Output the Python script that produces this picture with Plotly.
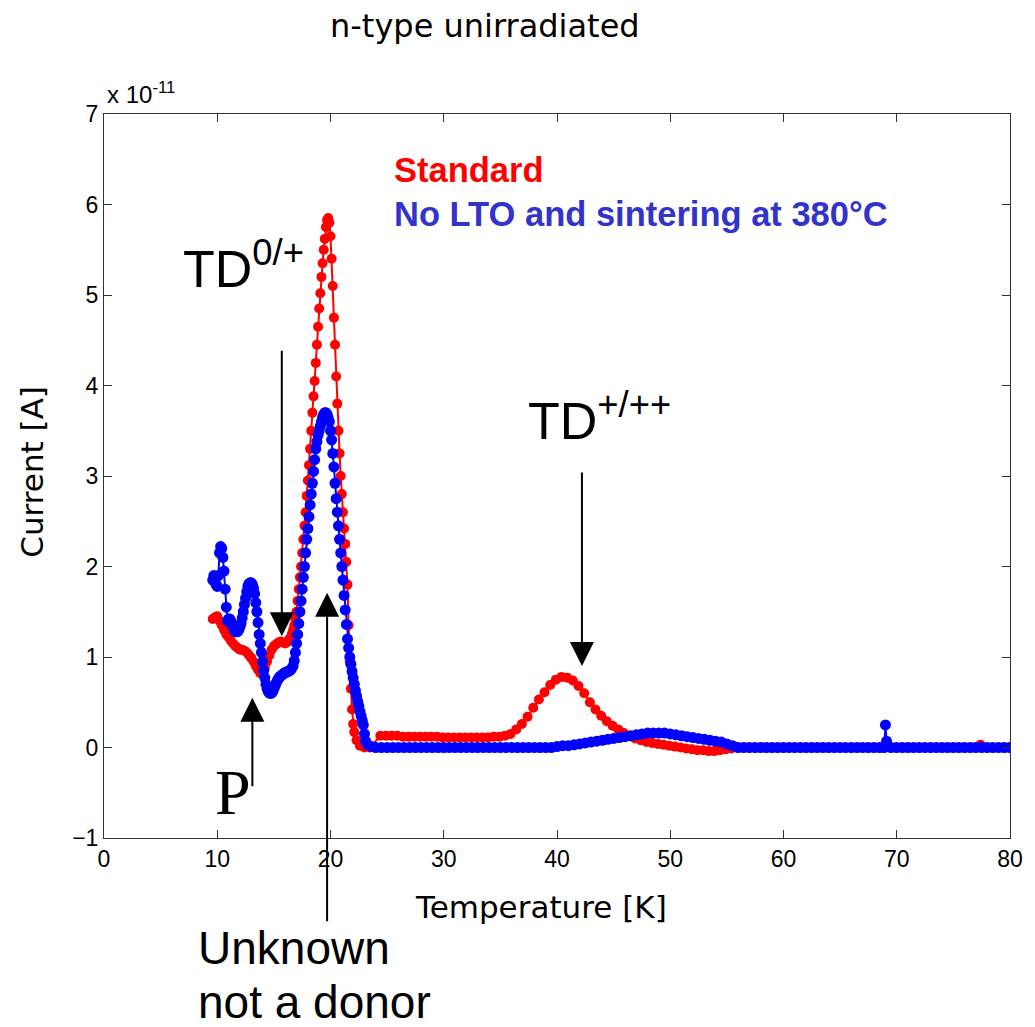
import plotly.graph_objects as go

# ---------------- data (current in units of 1e-11 A) ----------------
std_temp = [9.6, 9.8, 10.0, 10.2, 10.4, 10.6, 10.8, 11.0, 11.2, 11.4, 11.6, 11.8, 12.0, 12.2,
            12.4, 12.6, 12.8, 13.0, 13.2, 13.4, 13.6, 13.8, 14.0, 14.2, 14.4, 14.6, 14.8, 15.0,
            15.2, 15.4, 15.6, 15.8, 16.0, 16.2, 16.4,
            16.5, 16.6, 16.7, 16.8, 16.9, 17.0, 17.1, 17.2, 17.3, 17.4, 17.5, 17.6, 17.7, 17.8,
            17.9, 18.0, 18.1, 18.2, 18.3, 18.4, 18.5, 18.6, 18.7, 18.8, 18.9, 19.0, 19.1, 19.2,
            19.3, 19.4, 19.5, 19.6, 19.7, 19.8, 19.9, 20.0, 20.1, 20.2, 20.3, 20.4, 20.5, 20.6,
            20.7, 20.8, 20.9, 21.0, 21.1, 21.2, 21.3, 21.4, 21.5, 21.6, 21.7, 21.8, 21.9, 22.0,
            22.1, 22.3, 22.6, 23.0, 23.5,
            24.4, 24.9, 25.4, 25.9, 26.4, 26.9, 27.4, 27.9, 28.4, 28.9, 29.4, 29.9, 30.4, 30.9,
            31.4, 31.9, 32.4, 32.9, 33.4, 33.9, 34.4, 34.9, 35.4, 35.9, 36.4, 36.9, 37.4, 37.9,
            38.4, 38.9, 39.4, 39.9, 40.4, 40.9, 41.4, 41.9, 42.4, 42.9, 43.4, 43.9, 44.4, 44.9,
            45.4, 45.9, 46.4, 46.9, 47.4, 47.9, 48.4, 48.9, 49.4, 49.9, 50.4, 50.9, 51.4, 51.9,
            52.4, 52.9, 53.4, 53.9, 54.4, 54.9, 55.4, 55.9, 56.4, 56.9, 57.4, 57.9, 58.4, 58.9,
            59.4, 59.9, 60.4, 60.9, 61.4, 61.9, 62.4, 62.9, 63.4, 63.9, 64.4, 64.9, 65.4, 65.9,
            66.4, 66.9, 67.4, 67.9, 68.4, 68.9, 69.4, 69.9, 70.4, 70.9, 71.4, 71.9, 72.4, 72.9,
            73.4, 73.9, 74.4, 74.9, 75.4, 75.9, 76.4, 76.9, 77.4, 77.9, 78.4, 78.9, 79.4, 79.9]
std_current = [1.42, 1.44, 1.45, 1.40, 1.35, 1.30, 1.25, 1.22, 1.18, 1.15, 1.12, 1.10, 1.08, 1.08,
               1.07, 1.05, 1.02, 0.99, 0.95, 0.90, 0.86, 0.82, 0.83, 0.88, 0.95, 1.02, 1.08, 1.12,
               1.14, 1.16, 1.17, 1.16, 1.15, 1.17, 1.20,
               1.22, 1.26, 1.30, 1.35, 1.42, 1.50, 1.62, 1.75, 1.88, 2.00, 2.15, 2.30, 2.45, 2.60,
               2.78, 2.95, 3.12, 3.30, 3.50, 3.70, 3.88, 4.05, 4.25, 4.45, 4.65, 4.85, 5.02, 5.20,
               5.35, 5.50, 5.62, 5.75, 5.83, 5.85, 5.80, 5.65, 5.40, 5.10, 4.75, 4.45, 4.10, 3.80,
               3.50, 3.25, 3.00, 2.80, 2.60, 2.42, 2.25, 2.05, 1.80, 1.35, 0.95, 0.65, 0.42, 0.26,
               0.17, 0.08, 0.02, 0.00, 0.00,
               0.13, 0.13, 0.13, 0.13, 0.12, 0.12, 0.12, 0.12, 0.12, 0.12, 0.12, 0.11, 0.11, 0.11,
               0.11, 0.11, 0.11, 0.11, 0.11, 0.11, 0.12, 0.12, 0.13, 0.15, 0.20, 0.26, 0.34, 0.44,
               0.53, 0.61, 0.69, 0.75, 0.78, 0.77, 0.74, 0.68, 0.60, 0.50, 0.42, 0.35, 0.29, 0.24,
               0.20, 0.16, 0.13, 0.10, 0.08, 0.06, 0.05, 0.04, 0.03, 0.02, 0.01, 0.00, -0.01, -0.02,
               -0.03, -0.03, -0.04, -0.04, -0.03, -0.02, -0.01, 0.00, 0.00, 0.00, 0.00, 0.00, 0.00, 0.00,
               0.00, 0.00, 0.00, 0.00, 0.00, 0.00, 0.00, 0.00, 0.00, 0.00, 0.00, 0.00, 0.00, 0.00,
               0.00, 0.00, 0.00, 0.00, 0.00, 0.00, 0.00, 0.00, 0.00, 0.00, 0.00, 0.00, 0.00, 0.00,
               0.00, 0.00, 0.00, 0.00, 0.00, 0.00, 0.00, 0.00, 0.03, 0.00, 0.00, 0.00, 0.00, 0.00]

nolto_temp = [9.6, 9.7, 9.8, 9.9, 10.0, 10.1, 10.2, 10.3, 10.4, 10.5, 10.6, 10.7, 10.8, 10.9,
              11.0, 11.1, 11.2, 11.3, 11.4, 11.5, 11.6, 11.7, 11.8, 11.9, 12.0, 12.1, 12.2, 12.3,
              12.4, 12.5, 12.6, 12.7, 12.8, 12.9, 13.0, 13.1, 13.2, 13.3, 13.4, 13.5, 13.6, 13.7,
              13.8, 13.9, 14.0, 14.1, 14.2, 14.3, 14.4, 14.5, 14.6, 14.7, 14.8, 14.9, 15.0, 15.1,
              15.2, 15.3, 15.4, 15.5, 15.6, 15.7, 15.8, 15.9, 16.0, 16.1, 16.2, 16.3, 16.4, 16.5,
              16.6, 16.7, 16.8, 16.9, 17.0, 17.1, 17.2, 17.3, 17.4, 17.5, 17.6, 17.7, 17.8, 17.9,
              18.0, 18.1, 18.2, 18.3, 18.4, 18.5, 18.6, 18.7, 18.8, 18.9, 19.0, 19.1, 19.2, 19.3,
              19.4, 19.5, 19.6, 19.7, 19.8, 19.9, 20.0, 20.1, 20.2, 20.3, 20.4, 20.5, 20.6, 20.7,
              20.8, 20.9, 21.0, 21.1, 21.2, 21.3, 21.4, 21.5, 21.6, 21.7, 21.8, 21.9, 22.0, 22.1,
              22.2, 22.3, 22.4, 22.5, 22.6, 22.7, 22.8, 22.9, 23.0, 23.1, 23.3, 23.6,
              24.0, 24.5, 25.0, 25.5, 26.0, 26.5, 27.0, 27.5, 28.0, 28.5, 29.0, 29.5, 30.0,
              30.5, 31.0, 31.5, 32.0, 32.5, 33.0, 33.5, 34.0, 34.5, 35.0, 35.5, 36.0, 36.5, 37.0,
              37.5, 38.0, 38.5, 39.0, 39.5, 40.0, 40.5, 41.0, 41.5, 42.0, 42.5, 43.0, 43.5, 44.0,
              44.5, 45.0, 45.5, 46.0, 46.5, 47.0, 47.5, 48.0, 48.5, 49.0, 49.5, 50.0, 50.5, 51.0,
              51.5, 52.0, 52.5, 53.0, 53.5, 54.0, 54.5, 55.0, 55.5, 56.0, 56.5, 57.0, 57.5, 58.0,
              58.5, 59.0, 59.5, 60.0, 60.5, 61.0, 61.5, 62.0, 62.5, 63.0, 63.5, 64.0, 64.5, 65.0,
              65.5, 66.0, 66.5, 67.0, 67.5, 68.0, 68.5, 68.9, 69.0, 69.1, 69.5, 70.0, 70.5, 71.0,
              71.5, 72.0, 72.5, 73.0, 73.5, 74.0, 74.5, 75.0, 75.5, 76.0, 76.5, 77.0, 77.5, 78.0,
              78.5, 79.0, 79.5, 80.0]
nolto_current = [1.85, 1.90, 1.85, 1.80, 1.78, 1.90, 2.15, 2.22, 2.20, 2.10, 1.95, 1.75, 1.55, 1.40,
                 1.42, 1.42, 1.40, 1.37, 1.33, 1.30, 1.28, 1.28, 1.28, 1.30, 1.33, 1.37, 1.43, 1.50,
                 1.58, 1.65, 1.72, 1.78, 1.81, 1.82, 1.82, 1.80, 1.76, 1.70, 1.60, 1.50, 1.38, 1.25,
                 1.15, 1.05, 0.95, 0.85, 0.77, 0.70, 0.65, 0.62, 0.60, 0.60, 0.60, 0.62, 0.65, 0.68,
                 0.71, 0.74, 0.76, 0.78, 0.79, 0.80, 0.81, 0.82, 0.83, 0.83, 0.84, 0.84, 0.85, 0.86,
                 0.88, 0.90, 0.96, 1.05, 1.15, 1.25, 1.37, 1.50, 1.62, 1.75, 1.88, 2.00, 2.15, 2.30,
                 2.42, 2.55, 2.68, 2.80, 2.92, 3.05, 3.18, 3.30, 3.38, 3.45, 3.50, 3.55, 3.60, 3.65,
                 3.68, 3.70, 3.70, 3.68, 3.64, 3.60, 3.50, 3.40, 3.25, 3.10, 2.92, 2.75, 2.60, 2.45,
                 2.30, 2.15, 2.00, 1.85, 1.68, 1.52, 1.36, 1.20, 1.10, 1.00, 0.92, 0.84, 0.77, 0.70,
                 0.63, 0.57, 0.51, 0.46, 0.40, 0.35, 0.30, 0.25, 0.15, 0.07, 0.03, 0.01,
                 0.00, 0.00, 0.00, 0.00, 0.00, 0.00, 0.00, 0.00, 0.00, 0.00, 0.00, 0.00, 0.00,
                 0.00, 0.00, 0.00, 0.00, 0.00, 0.00, 0.00, 0.00, 0.00, 0.00, 0.00, 0.00, 0.00, 0.00,
                 0.00, 0.00, 0.00, 0.00, 0.00, 0.01, 0.02, 0.02, 0.03, 0.04, 0.05, 0.06, 0.07, 0.08,
                 0.09, 0.10, 0.11, 0.12, 0.13, 0.14, 0.15, 0.16, 0.16, 0.16, 0.16, 0.15, 0.14, 0.13,
                 0.12, 0.11, 0.10, 0.09, 0.08, 0.07, 0.06, 0.04, 0.02, 0.00, 0.00, 0.00, 0.00, 0.00,
                 0.00, 0.00, 0.00, 0.00, 0.00, 0.00, 0.00, 0.00, 0.00, 0.00, 0.00, 0.00, 0.00, 0.00,
                 0.00, 0.00, 0.00, 0.00, 0.00, 0.00, 0.00, 0.00, 0.25, 0.07, 0.00, 0.00, 0.00, 0.00,
                 0.00, 0.00, 0.00, 0.00, 0.00, 0.00, 0.00, 0.00, 0.00, 0.00, 0.00, 0.00, 0.00, 0.00,
                 0.00, 0.00, 0.00, 0.00]

x_ticks = [0, 10, 20, 30, 40, 50, 60, 70, 80]
y_ticks = [-1, 0, 1, 2, 3, 4, 5, 6, 7]

series_names = ["Standard", "No LTO and sintering at 380°C"]
title_text = "n-type unirradiated"
x_title = "Temperature [K]"
y_title = "Current [A]"

RED = "#FF0000"
BLUE = "#0000FF"
LEG_BLUE = "#3333CC"
SANS = "Arial, Liberation Sans, sans-serif"
WIDE = "DejaVu Sans, sans-serif"

fig = go.Figure()
fig.add_trace(go.Scatter(x=std_temp, y=std_current, mode="lines+markers",
                         line=dict(color=RED, width=2),
                         marker=dict(color=RED, size=10), name=series_names[0]))
fig.add_trace(go.Scatter(x=nolto_temp, y=nolto_current, mode="lines+markers",
                         line=dict(color=BLUE, width=2),
                         marker=dict(color=BLUE, size=11), name=series_names[1]))

# page offset of the figure (body margin of the html page)
OFF = 8
PL, PR, PT, PB = 104, 1019, 114, 838      # plot area in page pixels
W, H = 1035 - OFF, 1027 - OFF
L, T = PL - OFF, PT - OFF
R, B = W - (PR - OFF), H - (PB - OFF)


def px(xp):
    return (xp - PL) / (PR - PL)


def py(yp):
    return (PB - yp) / (PB - PT)


ann = []
# title and axis titles
ann.append(dict(text=title_text, xref="paper", yref="paper", x=px(489), y=py(26),
                xanchor="center", yanchor="middle", showarrow=False,
                font=dict(family=WIDE, size=32, color="black")))
ann.append(dict(text=x_title, xref="paper", yref="paper", x=px(545), y=py(907),
                xanchor="center", yanchor="middle", showarrow=False,
                font=dict(family=WIDE, size=31, color="black")))
ann.append(dict(text=y_title, xref="paper", yref="paper", x=px(31), y=py(472),
                xanchor="center", yanchor="middle", showarrow=False, textangle=-90,
                font=dict(family=WIDE, size=31, color="black")))
ann.append(dict(text="x 10<sup>-11</sup>", xref="paper", yref="paper", x=px(105), y=py(93),
                xanchor="left", yanchor="middle", showarrow=False,
                font=dict(family=SANS, size=24, color="black")))
# legend-like labels
ann.append(dict(text="<b>" + series_names[0] + "</b>", xref="x", yref="y", x=25.4, y=6.38,
                xanchor="left", yanchor="middle", showarrow=False,
                font=dict(family=SANS, size=34.5, color=RED)))
ann.append(dict(text="<b>" + series_names[1] + "</b>", xref="x", yref="y", x=25.4, y=5.9,
                xanchor="left", yanchor="middle", showarrow=False,
                font=dict(family=SANS, size=34.5, color=LEG_BLUE)))
# peak labels
ann.append(dict(text="TD<sup>0/+</sup>", xref="x", yref="y", x=6.8, y=5.33,
                xanchor="left", yanchor="middle", showarrow=False,
                font=dict(family=SANS, size=52, color="black")))
ann.append(dict(text="TD<sup>+/++</sup>", xref="x", yref="y", x=37.3, y=3.65,
                xanchor="left", yanchor="middle", showarrow=False,
                font=dict(family=SANS, size=52, color="black")))
ann.append(dict(text="P", xref="x", yref="y", x=9.6, y=-0.5,
                xanchor="left", yanchor="middle", showarrow=False,
                font=dict(family="Liberation Serif, Times New Roman, serif", size=64, color="black")))
ann.append(dict(text="Unknown", xref="paper", yref="paper", x=px(197), y=py(948),
                xanchor="left", yanchor="middle", showarrow=False,
                font=dict(family=SANS, size=46, color="black")))
ann.append(dict(text="not a donor", xref="paper", yref="paper", x=px(197), y=py(1002),
                xanchor="left", yanchor="middle", showarrow=False,
                font=dict(family=SANS, size=46, color="black")))

# arrows (head at data point, tail offset in pixels)
arrow_common = dict(showarrow=True, arrowhead=2, arrowsize=2.4, arrowwidth=2,
                    arrowcolor="black", text="", xref="x", yref="y", ax=0, standoff=0)
ann.append(dict(x=15.7, y=1.23, ay=-287, **arrow_common))
ann.append(dict(x=42.2, y=0.90, ay=-195, **arrow_common))
ann.append(dict(x=13.1, y=0.55, ay=90, **arrow_common))
ann.append(dict(x=19.7, y=1.71, ay=330, **arrow_common))

axis_common = dict(showline=True, linecolor="#333333", linewidth=1, mirror="ticks",
                   ticks="inside", ticklen=8, tickwidth=1, tickcolor="#333333",
                   showgrid=False, zeroline=False,
                   tickfont=dict(family=SANS, size=23, color="black"))

fig.update_layout(
    width=W, height=H,
    margin=dict(l=L, r=R, t=T, b=B, pad=0),
    paper_bgcolor="white", plot_bgcolor="white",
    showlegend=False,
    xaxis=dict(range=[0, 80], tickvals=x_ticks, **axis_common),
    yaxis=dict(range=[-1, 7], tickvals=y_ticks, **axis_common),
    annotations=ann,
)

fig.write_html("out.html")
